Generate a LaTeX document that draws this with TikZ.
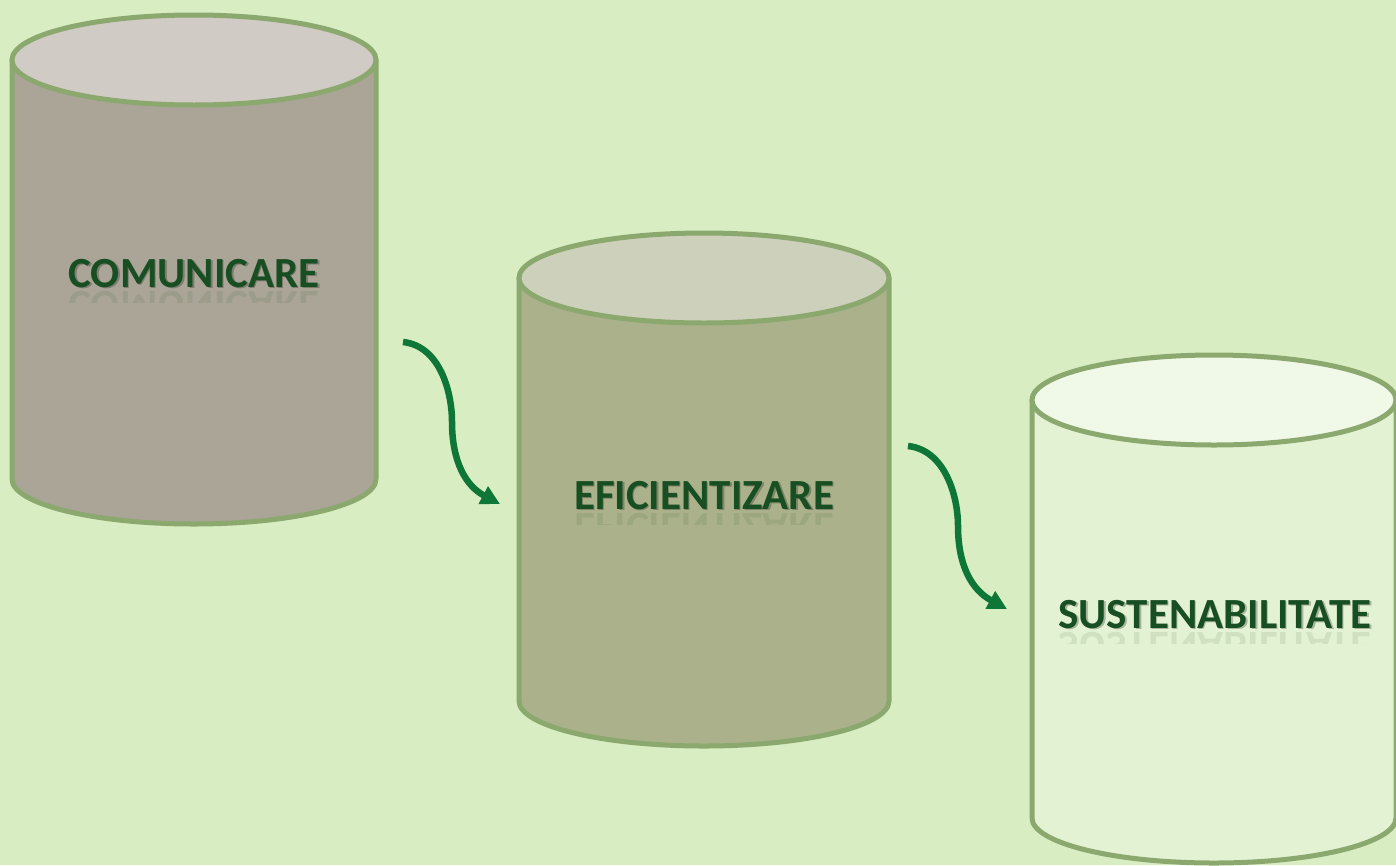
\documentclass[tikz,border=0pt]{standalone}
\usepackage{fontspec}
\setmainfont{Carlito}
\usetikzlibrary{arrows.meta}

\definecolor{bgreen}{HTML}{D8EDC1}
\definecolor{rimgreen}{HTML}{8BA86E}
\definecolor{txtgreen}{HTML}{184F22}
\definecolor{arrgreen}{HTML}{0E7636}
\definecolor{comBody}{HTML}{ABA598}
\definecolor{comTop}{HTML}{D0CBC4}
\definecolor{efiBody}{HTML}{ABB18B}
\definecolor{efiTop}{HTML}{CDD0BA}
\definecolor{susBody}{HTML}{E4F2D4}
\definecolor{susTop}{HTML}{F0F8E8}

\begin{document}
\begin{tikzpicture}[x=1pt, y=-1pt]
\tikzstyle{rim}=[draw=rimgreen, line width=5pt, line join=round]
\tikzstyle{label}=[font=\fontsize{43}{50}\selectfont\bfseries, text=txtgreen, anchor=base, inner sep=0pt]
\tikzstyle{mirror}=[label, yscale=-1, transform shape, opacity=0.1]
\tikzstyle{connect}=[-{Triangle[length=19pt, width=19pt]}, line width=6.5pt, arrgreen]
\useasboundingbox (0,0) rectangle (1396,865);
\fill[bgreen] (0,0) rectangle (1396,865);
% cylinders
\path[rim, fill=comBody] (12,60) -- (12,479) arc (180:360:182 and -45) -- (376,60) -- cycle;
\path[rim, fill=comTop] (194,60) ellipse (182 and 45);
\path[rim, fill=efiBody] (519,278) -- (519,701) arc (180:360:185 and -45) -- (889,278) -- cycle;
\path[rim, fill=efiTop] (704,278) ellipse (185 and 45);
\path[rim, fill=susBody] (1032,400) -- (1032,818) arc (180:360:182 and -45) -- (1396,400) -- cycle;
\path[rim, fill=susTop] (1214,400) ellipse (182 and 45);
% labels
\node[label, text=black, opacity=0.25] at (195.5,288.5) {COMUNICARE};
\node[label] (com) at (194,287) {COMUNICARE};
\node[label, text=black, opacity=0.25] at (705.5,510.5) {EFICIENTIZARE};
\node[label] (efi) at (704,509) {EFICIENTIZARE};
\node[label, text=black, opacity=0.25] at (1216.5,629.5) {SUSTENABILITATE};
\node[label] (sus) at (1215,628) {SUSTENABILITATE};
\begin{scope}
\clip (0,289) rectangle (400,302);
\node[mirror] (comR) at (194,291) {COMUNICARE};
\end{scope}
\begin{scope}
\clip (500,511) rectangle (900,524);
\node[mirror] (efiR) at (704,513) {EFICIENTIZARE};
\end{scope}
\begin{scope}
\clip (1030,630) rectangle (1396,643);
\node[mirror] (susR) at (1215,632) {SUSTENABILITATE};
\end{scope}
% arrows
\coordinate (a1) at (403,342);
\coordinate (b1) at (500,504);
\coordinate (a2) at (908,446);
\coordinate (b2) at (1007,609);
\draw[connect] (a1) .. controls (440,346) and (452,392) .. (452,422) .. controls (452,462) and (466,486) .. (b1);
\draw[connect] (a2) .. controls (945,450) and (958,496) .. (958,526) .. controls (958,566) and (972,590) .. (b2);
\end{tikzpicture}
\end{document}
